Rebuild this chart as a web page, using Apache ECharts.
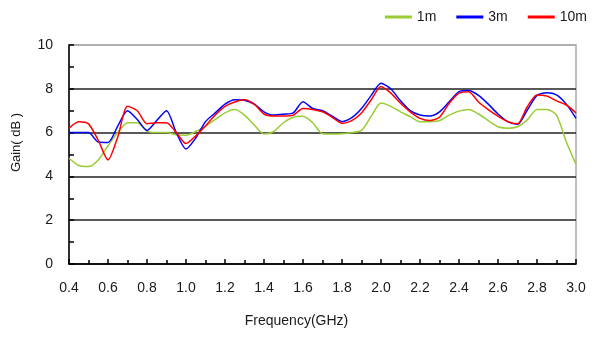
<!DOCTYPE html>
<html>
<head>
<meta charset="utf-8">
<script src="https://cdn.jsdelivr.net/npm/echarts@6/dist/echarts.min.js"></script>
<style>
  html, body { margin: 0; padding: 0; background: #fff; }
  #chart { width: 594px; height: 342px; }
</style>
</head>
<body>
<div id="chart"></div>
<script>
// 频率 (GHz)
var freqs = [0.40, 0.45, 0.50, 0.55, 0.60, 0.65, 0.70, 0.75, 0.80, 0.85,
             0.90, 0.95, 1.00, 1.05, 1.10, 1.15, 1.20, 1.25, 1.30, 1.35,
             1.40, 1.45, 1.50, 1.55, 1.60, 1.65, 1.70, 1.75, 1.80, 1.85,
             1.90, 1.95, 2.00, 2.05, 2.10, 2.15, 2.20, 2.25, 2.30, 2.35,
             2.40, 2.45, 2.50, 2.55, 2.60, 2.65, 2.70, 2.75, 2.80, 2.85,
             2.90, 2.95, 3.00];

var gain1m = [4.83, 4.50, 4.45, 4.75, 5.40, 6.00, 6.45, 6.45, 6.07, 6.00,
              6.00, 5.90, 5.88, 6.05, 6.30, 6.60, 6.90, 7.05, 6.80, 6.35,
              5.94, 6.05, 6.45, 6.70, 6.75, 6.45, 5.95, 5.94, 5.95, 6.00,
              6.10, 6.75, 7.35, 7.20, 6.95, 6.73, 6.50, 6.50, 6.55, 6.80,
              6.98, 7.05, 6.85, 6.55, 6.27, 6.20, 6.27, 6.58, 7.06, 7.06,
              6.80, 5.58, 4.55];

var gain3m = [6.00, 6.00, 6.00, 5.57, 5.55, 6.30, 7.00, 6.60, 6.10, 6.55,
              7.00, 6.00, 5.25, 5.75, 6.50, 6.90, 7.30, 7.50, 7.48, 7.30,
              6.95, 6.80, 6.84, 6.90, 7.41, 7.10, 7.00, 6.75, 6.50, 6.68,
              7.10, 7.70, 8.25, 8.00, 7.45, 7.00, 6.80, 6.76, 6.95, 7.41,
              7.87, 7.92, 7.70, 7.30, 6.85, 6.50, 6.38, 7.03, 7.70, 7.82,
              7.72, 7.30, 6.65];

var gain10m = [6.20, 6.50, 6.40, 5.65, 4.75, 5.80, 7.20, 7.00, 6.40, 6.45,
               6.45, 6.00, 5.50, 5.85, 6.30, 6.80, 7.20, 7.40, 7.50, 7.30,
               6.85, 6.76, 6.76, 6.80, 7.10, 7.06, 6.95, 6.70, 6.42, 6.55,
               6.90, 7.50, 8.10, 7.80, 7.34, 6.95, 6.65, 6.55, 6.70, 7.34,
               7.80, 7.87, 7.40, 7.05, 6.75, 6.50, 6.40, 7.18, 7.72, 7.67,
               7.45, 7.26, 6.90];

var seriesNames = ['1m', '3m', '10m'];
var seriesColors = ['#99cc33', '#0000ff', '#ff0000'];
var seriesValues = [gain1m, gain3m, gain10m];

var chart = echarts.init(document.getElementById('chart'));

var series = [];
for (var i = 0; i < seriesNames.length; i++) {
    series.push({
        name: seriesNames[i],
        type: 'line',
        showSymbol: false,
        smooth: 0.25,
        silent: true,
        lineStyle: { color: seriesColors[i], width: 1.5 },
        itemStyle: { color: seriesColors[i] },
        data: freqs.map(function (f, k) { return [f, seriesValues[i][k]]; })
    });
}

// 奇数刻度不画网格线、不显示标签
var gridColors = [];
for (var g = 0; g <= 10; g++) {
    gridColors.push(g === 10 ? '#aaaaaa' : (g % 2 === 0 ? '#222' : 'rgba(0,0,0,0)'));
}

var option = {
    animation: false,
    textStyle: { fontFamily: 'Liberation Sans, Arial, sans-serif' },
    legend: {
        right: 2,
        top: 5,
        itemWidth: 27,
        itemHeight: 3,
        itemGap: 20,
        icon: 'rect',
        textStyle: { fontSize: 14, color: '#1a1a1a' },
        data: seriesNames
    },
    grid: {
        left: 69,
        right: 18,
        top: 45,
        bottom: 78,
        show: true,
        borderColor: '#aaaaaa',
        borderWidth: 1.5
    },
    xAxis: {
        type: 'value',
        min: 0.4,
        max: 3.0,
        interval: 0.2,
        name: 'Frequency(GHz)',
        nameLocation: 'middle',
        nameGap: 50,
        nameTextStyle: { fontSize: 14, color: '#1a1a1a', padding: [0, 52, 0, 0] },
        axisLine: { lineStyle: { color: '#000', width: 1.5 } },
        axisTick: { inside: true, length: 5, lineStyle: { color: '#000', width: 1.5 } },
        minorTick: { show: true, splitNumber: 2, length: 4, lineStyle: { color: '#000', width: 1.5 } },
        axisLabel: {
            fontSize: 14,
            color: '#1a1a1a',
            margin: 17,
            formatter: function (v) { return v.toFixed(1); }
        },
        splitLine: { show: false }
    },
    yAxis: {
        type: 'value',
        min: 0,
        max: 10,
        interval: 1,
        name: 'Gain( dB )',
        nameLocation: 'middle',
        nameGap: 46,
        nameTextStyle: { fontSize: 13, color: '#1a1a1a', padding: [0, 0, 0, 24] },
        axisLine: { show: true, lineStyle: { color: '#000', width: 1.5 } },
        axisTick: { show: true, inside: true, length: 5, lineStyle: { color: '#000', width: 1.5 } },
        axisLabel: {
            fontSize: 14,
            color: '#1a1a1a',
            margin: 16,
            formatter: function (v) { return v % 2 === 0 ? String(v) : ''; }
        },
        splitLine: {
            show: true,
            lineStyle: { color: gridColors, width: 1.5 }
        }
    },
    series: series
};

chart.setOption(option);
</script>
</body>
</html>
